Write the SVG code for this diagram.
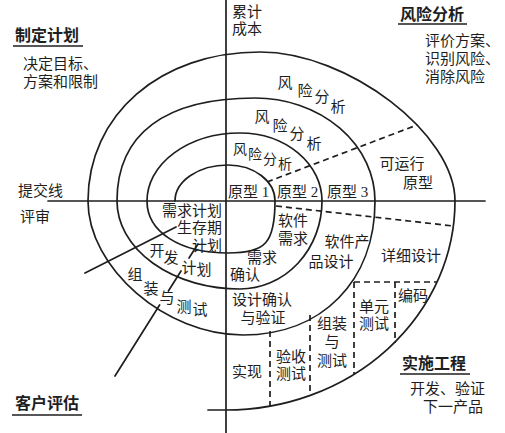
<svg xmlns="http://www.w3.org/2000/svg" width="505" height="433" viewBox="0 0 505 433">
<style>
.ln{fill:none;stroke:#1e1e1e;stroke-width:1.7;stroke-linecap:round}
.ds{fill:none;stroke:#1e1e1e;stroke-width:1.7;stroke-dasharray:6 4}
.ul{fill:none;stroke:#1e1e1e;stroke-width:1.6}
text{font-family:"Noto Sans CJK SC","Noto Sans",sans-serif;font-size:15px;fill:#1e1e1e}
.h{font-size:16px;font-weight:bold}
.c{text-anchor:middle}
.r{text-anchor:end}
.n{font-family:"Liberation Serif",serif}
.s{font-size:14px}
</style>
<rect width="505" height="433" fill="#ffffff"/>
<g id="connectors">
<line class="ln" x1="226" y1="0" x2="226" y2="433"/>
<line class="ln" x1="48" y1="201" x2="485" y2="201"/>
<path class="ln" d="M175,201 A53,36 0 0 1 228,165 A47,36 0 0 1 275,201 C275,243 265.6,253 228,253 C180,253 147,232 147,201 A93,68 0 0 1 240,133 A82,68 0 0 1 322,201 A82,88 0 0 1 240,289 A123,88 0 0 1 117,201 C117,134 165,98 255,98 A120,103 0 0 1 375,201 C375,281 322,335 243,335 C165.5,335 88,268 88,201 C88,114.6 160.2,52 260,52 C348,52 455,134 455,201 A229,209 0 0 1 226,410 L208,410"/>
<line class="ln" x1="85" y1="273" x2="176" y2="227"/>
<line class="ln" x1="115" y1="376" x2="159.6" y2="305"/>
<line class="ln" x1="168.4" y1="291" x2="181" y2="271"/>
<line class="ln" x1="189" y1="258" x2="198" y2="244"/>
<line class="ds" x1="267" y1="182" x2="417" y2="125"/>
<line class="ds" x1="276" y1="206" x2="453" y2="226"/>
<line class="ds" x1="354" y1="282" x2="437" y2="282"/>
<line class="ds" x1="354" y1="282" x2="354" y2="374"/>
<line class="ds" x1="395" y1="282" x2="395" y2="343"/>
<line class="ds" x1="310" y1="315" x2="310" y2="394"/>
<line class="ds" x1="270" y1="331" x2="270" y2="406"/>
</g>
<g id="plan">
<text class="h" x="15" y="41">制定计划</text>
<line class="ul" x1="13" y1="46" x2="83" y2="46"/>
<text x="23" y="69">决定目标、</text>
<text x="23" y="87">方案和限制</text>
</g>
<g id="cost">
<text x="232" y="17">累计</text>
<text x="232" y="34">成本</text>
</g>
<g id="risk">
<text class="h" x="400" y="20">风险分析</text>
<line class="ul" x1="398" y1="24" x2="467" y2="24"/>
<text x="425" y="46">评价方案、</text>
<text x="425" y="64">识别风险、</text>
<text x="425" y="82">消除风险</text>
</g>
<g id="commit">
<text x="18" y="196">提交线</text>
<text x="20" y="222">评审</text>
</g>
<g id="customer">
<text class="h" x="15" y="409">客户评估</text>
<line class="ul" x1="12" y1="415" x2="82" y2="415"/>
</g>
<g id="engineering">
<text class="h" x="402" y="369">实施工程</text>
<line class="ul" x1="400" y1="374" x2="470" y2="374"/>
<text x="410" y="394">开发、验证</text>
<text x="423" y="412">下一产品</text>
</g>
<g id="risk-outer">
<text class="c" x="285" y="88">风</text>
<text class="c" x="305" y="96">险</text>
<text class="c" x="322" y="102">分</text>
<text class="c" x="338" y="112">析</text>
</g>
<g id="risk-middle">
<text class="c" x="262" y="122">风</text>
<text class="c" x="280" y="131">险</text>
<text class="c" x="297" y="139">分</text>
<text class="c" x="314" y="149">析</text>
</g>
<g id="risk-inner">
<text class="c s" x="240" y="154">风</text>
<text class="c s" x="255" y="159">险</text>
<text class="c s" x="270" y="164">分</text>
<text class="c s" x="285" y="169">析</text>
</g>
<g id="prototypes">
<text x="228" y="197">原型<tspan class="n"> 1</tspan></text>
<text x="277" y="197">原型<tspan class="n"> 2</tspan></text>
<text x="327" y="197">原型<tspan class="n"> 3</tspan></text>
<text class="c" x="402" y="169">可运行</text>
<text class="c" x="418" y="188">原型</text>
</g>
<g id="plans">
<text class="r" x="222" y="216">需求计划</text>
<text class="r" x="222" y="233">生存期</text>
<text class="r" x="222" y="251">计划</text>
</g>
<g id="devplan">
<text class="c" x="157" y="256">开</text>
<text class="c" x="171" y="263">发</text>
<text class="c" x="189" y="273">计</text>
<text class="c" x="204" y="275">划</text>
</g>
<g id="integration-plan">
<text class="c" x="135" y="280">组</text>
<text class="c" x="151" y="294">装</text>
<text class="c" x="167" y="303">与</text>
<text class="c" x="184" y="312">测</text>
<text class="c" x="200" y="315">试</text>
</g>
<g id="software-req">
<text class="c" x="293" y="226">软件</text>
<text class="c" x="293" y="244">需求</text>
</g>
<g id="req-validation">
<text class="c" x="262" y="263">需求</text>
<text class="c" x="245" y="280">确认</text>
</g>
<g id="product-design">
<text class="c" x="347" y="247">软件产</text>
<text class="c" x="331" y="267">品设计</text>
</g>
<g id="detail-design">
<text class="c" x="411" y="261">详细设计</text>
</g>
<g id="coding">
<text class="c" x="413" y="301">编码</text>
</g>
<g id="unit-test">
<text class="c" x="374" y="312">单元</text>
<text class="c" x="374" y="329">测试</text>
</g>
<g id="design-validation">
<text class="c" x="262" y="305">设计确认</text>
<text class="c" x="263" y="323">与验证</text>
</g>
<g id="integration-test">
<text class="c" x="332" y="329">组装</text>
<text class="c" x="332" y="347">与</text>
<text class="c" x="332" y="366">测试</text>
</g>
<g id="acceptance">
<text class="c" x="291" y="362">验收</text>
<text class="c" x="291" y="379">测试</text>
</g>
<g id="implementation">
<text class="c" x="247" y="377">实现</text>
</g>
</svg>
